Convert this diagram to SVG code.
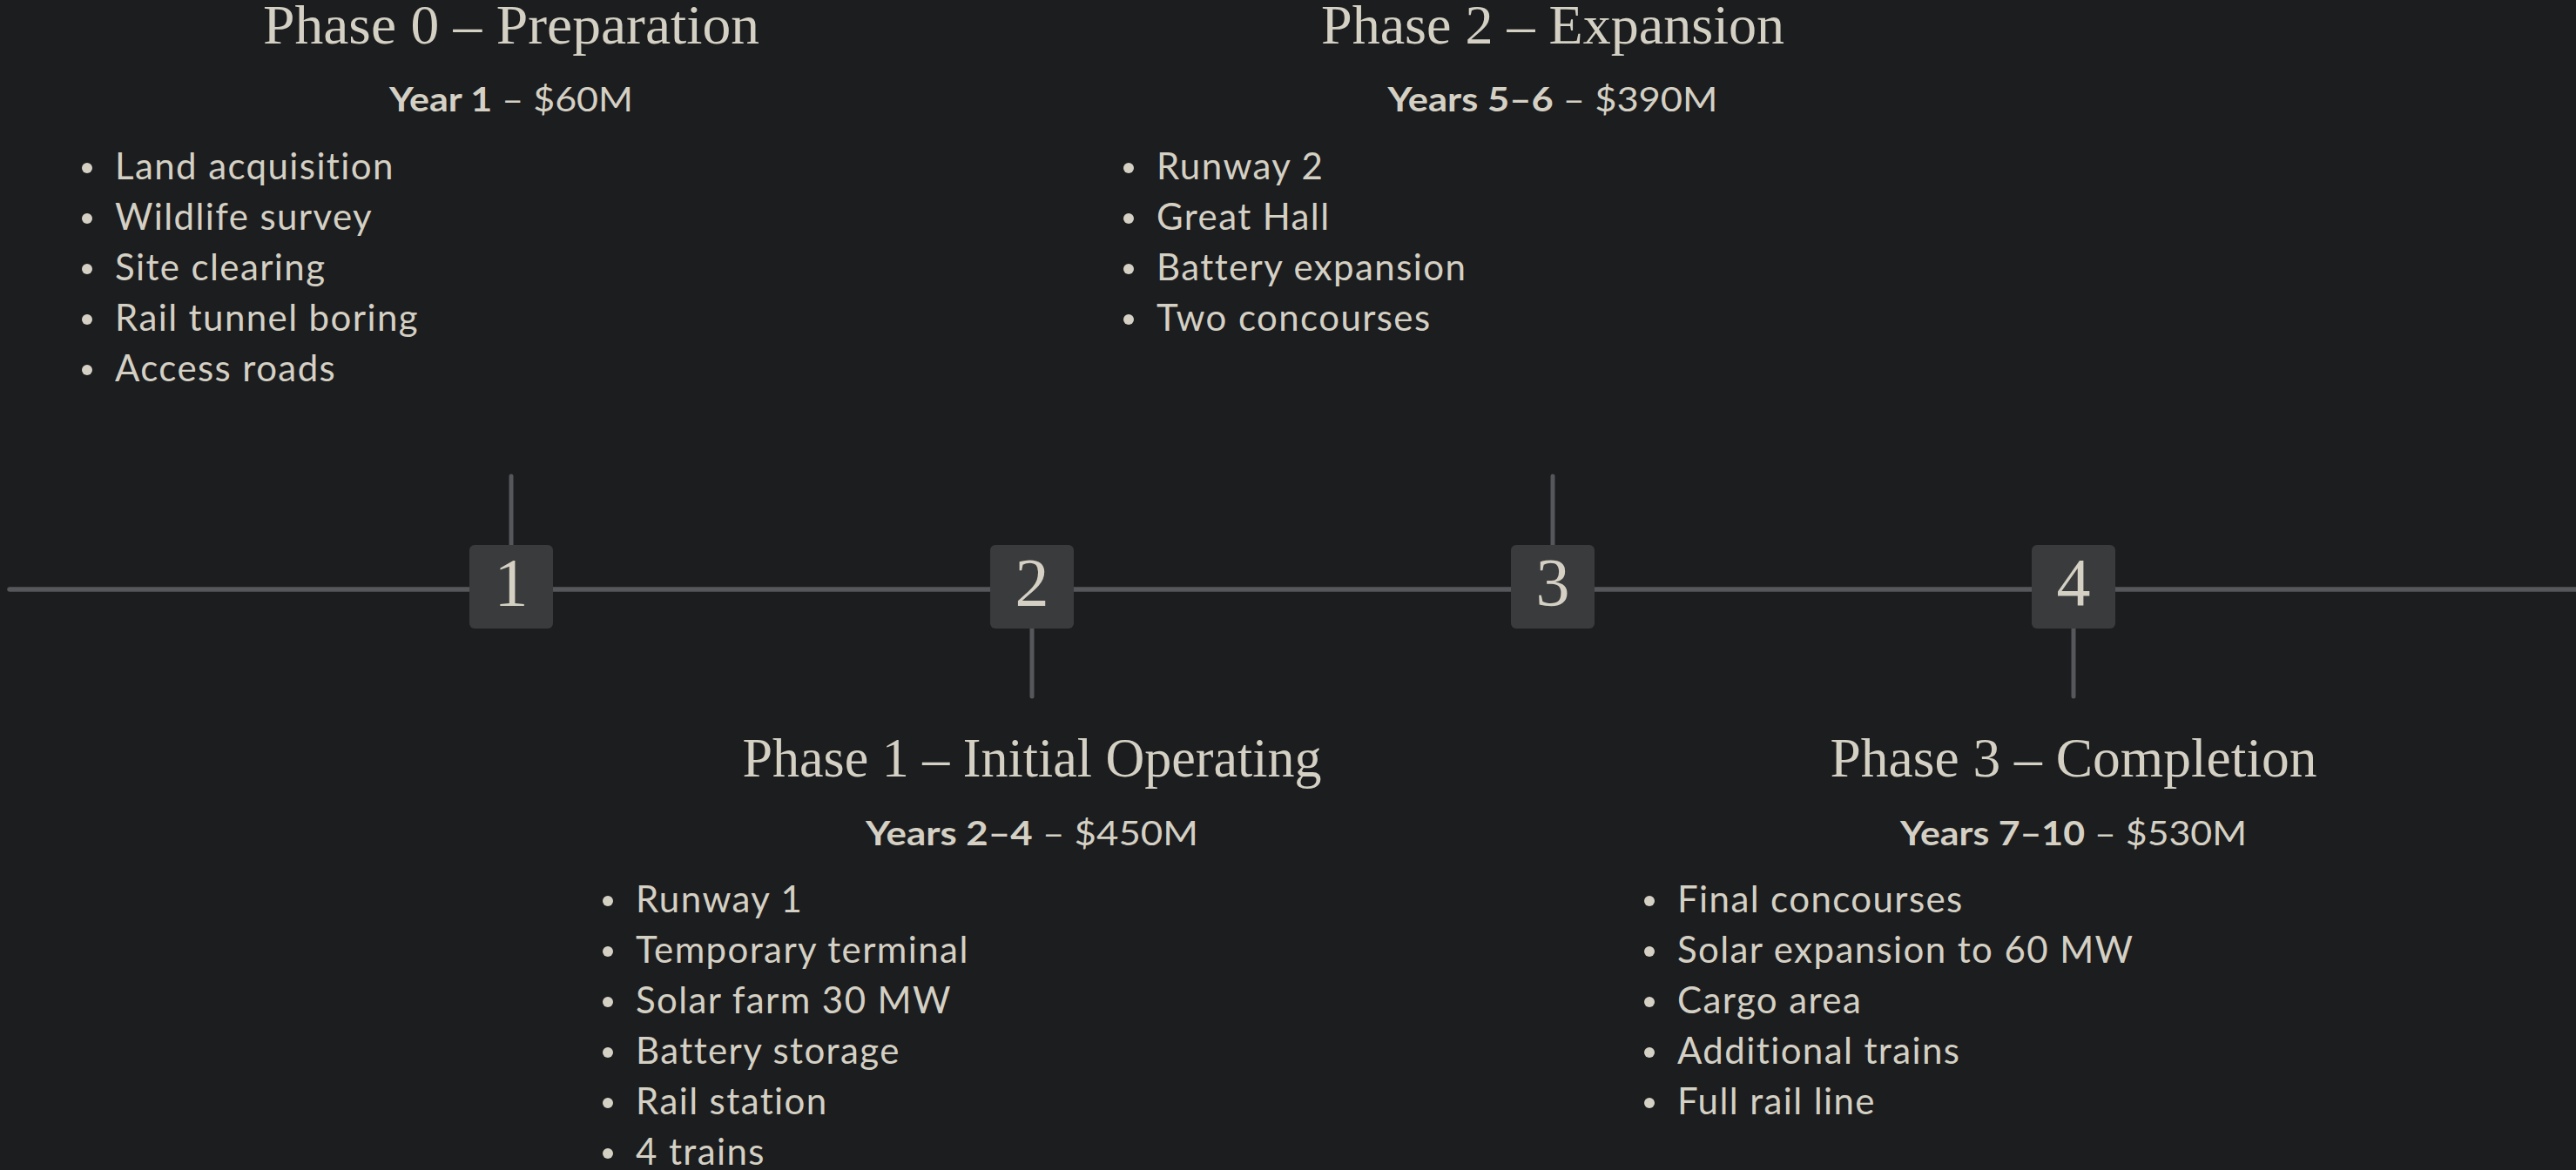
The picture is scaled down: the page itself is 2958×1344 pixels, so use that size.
<svg xmlns="http://www.w3.org/2000/svg" width="2958" height="1344" viewBox="0 0 2958 1344">
<style>
.bg{fill:#1c1d1f}
.axis{stroke:#55575a;stroke-width:5.5;stroke-linecap:round;fill:none}
.stub{stroke:#55575a;stroke-width:5;stroke-linecap:round;fill:none}
.box{fill:#3a3b3d}
.num{font-family:"Liberation Serif","DejaVu Serif",serif;font-size:78px;fill:#d4d0c4;text-anchor:middle}
.title{font-family:"Liberation Serif","DejaVu Serif",serif;font-size:64px;fill:#d4d0c4;text-anchor:middle}
.sub{font-family:Lato,"Liberation Sans",sans-serif;font-size:39px;fill:#d4d0c4;text-anchor:middle}
.sub .b{font-weight:700}
.item{font-family:Lato,"Liberation Sans",sans-serif;font-size:42px;fill:#d4d0c4;letter-spacing:1.4px}
.dot{fill:#d4d0c4}
</style>
<rect class="bg" x="0" y="0" width="2958" height="1344"/>
<g id="connectors">
<line class="axis" x1="11" y1="677" x2="2962" y2="677"/>
<line class="stub" x1="587" y1="547" x2="587" y2="628"/>
<line class="stub" x1="1185" y1="720" x2="1185" y2="800"/>
<line class="stub" x1="1783" y1="547" x2="1783" y2="628"/>
<line class="stub" x1="2381" y1="720" x2="2381" y2="800"/>
</g>
<g id="marker1"><rect class="box" x="539" y="626" width="96" height="96" rx="6"/><text class="num" x="587" y="695">1</text></g>
<g id="marker2"><rect class="box" x="1137" y="626" width="96" height="96" rx="6"/><text class="num" x="1185" y="695">2</text></g>
<g id="marker3"><rect class="box" x="1735" y="626" width="96" height="96" rx="6"/><text class="num" x="1783" y="695">3</text></g>
<g id="marker4"><rect class="box" x="2333" y="626" width="96" height="96" rx="6"/><text class="num" x="2381" y="695">4</text></g>
<g id="phase0">
<text class="title" x="587" y="50" textLength="570" lengthAdjust="spacingAndGlyphs">Phase 0 – Preparation</text>
<text class="sub" x="587" y="128" textLength="280" lengthAdjust="spacingAndGlyphs"><tspan class="b">Year 1</tspan> – $60M</text>
<circle class="dot" cx="100" cy="193" r="6"/><text class="item" x="132" y="206">Land acquisition</text>
<circle class="dot" cx="100" cy="251" r="6"/><text class="item" x="132" y="264">Wildlife survey</text>
<circle class="dot" cx="100" cy="309" r="6"/><text class="item" x="132" y="322">Site clearing</text>
<circle class="dot" cx="100" cy="367" r="6"/><text class="item" x="132" y="380">Rail tunnel boring</text>
<circle class="dot" cx="100" cy="425" r="6"/><text class="item" x="132" y="438">Access roads</text>
</g>
<g id="phase2">
<text class="title" x="1783" y="50" textLength="532" lengthAdjust="spacingAndGlyphs">Phase 2 – Expansion</text>
<text class="sub" x="1783" y="128" textLength="379" lengthAdjust="spacingAndGlyphs"><tspan class="b">Years 5–6</tspan> – $390M</text>
<circle class="dot" cx="1296" cy="193" r="6"/><text class="item" x="1328" y="206">Runway 2</text>
<circle class="dot" cx="1296" cy="251" r="6"/><text class="item" x="1328" y="264">Great Hall</text>
<circle class="dot" cx="1296" cy="309" r="6"/><text class="item" x="1328" y="322">Battery expansion</text>
<circle class="dot" cx="1296" cy="367" r="6"/><text class="item" x="1328" y="380">Two concourses</text>
</g>
<g id="phase1">
<text class="title" x="1185" y="892" textLength="665" lengthAdjust="spacingAndGlyphs">Phase 1 – Initial Operating</text>
<text class="sub" x="1185" y="971" textLength="382" lengthAdjust="spacingAndGlyphs"><tspan class="b">Years 2–4</tspan> – $450M</text>
<circle class="dot" cx="698" cy="1035" r="6"/><text class="item" x="730" y="1048">Runway 1</text>
<circle class="dot" cx="698" cy="1093" r="6"/><text class="item" x="730" y="1106">Temporary terminal</text>
<circle class="dot" cx="698" cy="1151" r="6"/><text class="item" x="730" y="1164">Solar farm 30 MW</text>
<circle class="dot" cx="698" cy="1209" r="6"/><text class="item" x="730" y="1222">Battery storage</text>
<circle class="dot" cx="698" cy="1267" r="6"/><text class="item" x="730" y="1280">Rail station</text>
<circle class="dot" cx="698" cy="1325" r="6"/><text class="item" x="730" y="1338">4 trains</text>
</g>
<g id="phase3">
<text class="title" x="2381" y="892" textLength="559" lengthAdjust="spacingAndGlyphs">Phase 3 – Completion</text>
<text class="sub" x="2381" y="971" textLength="398" lengthAdjust="spacingAndGlyphs"><tspan class="b">Years 7–10</tspan> – $530M</text>
<circle class="dot" cx="1894" cy="1035" r="6"/><text class="item" x="1926" y="1048">Final concourses</text>
<circle class="dot" cx="1894" cy="1093" r="6"/><text class="item" x="1926" y="1106">Solar expansion to 60 MW</text>
<circle class="dot" cx="1894" cy="1151" r="6"/><text class="item" x="1926" y="1164">Cargo area</text>
<circle class="dot" cx="1894" cy="1209" r="6"/><text class="item" x="1926" y="1222">Additional trains</text>
<circle class="dot" cx="1894" cy="1267" r="6"/><text class="item" x="1926" y="1280">Full rail line</text>
</g>
</svg>
